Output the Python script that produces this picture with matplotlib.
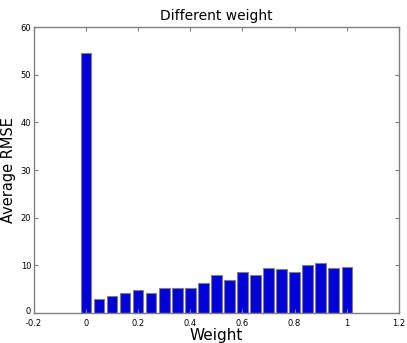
import matplotlib
matplotlib.use("Agg")
import matplotlib.pyplot as plt
from matplotlib.transforms import ScaledTranslation

weights = [0.0, 0.05, 0.1, 0.15, 0.2, 0.25, 0.3, 0.35, 0.4, 0.45, 0.5,
           0.55, 0.6, 0.65, 0.7, 0.75, 0.8, 0.85, 0.9, 0.95, 1.0]
rmse = [54.5, 3.0, 3.6, 4.2, 4.9, 4.2, 5.2, 5.2, 5.2, 6.2, 8.0,
        7.0, 8.7, 8.0, 9.5, 9.2, 8.6, 10.1, 10.4, 9.35, 9.65]
xticks = [-0.2, 0, 0.2, 0.4, 0.6, 0.8, 1, 1.2]
xticklabels = ["-0.2", "0", "0.2", "0.4", "0.6", "0.8", "1", "1.2"]
yticks = [0, 10, 20, 30, 40, 50, 60]

fig = plt.figure(figsize=(4.07, 3.43), dpi=100)
ax = fig.add_axes([0.0835, 0.0875, 0.8965, 0.8335])
ax.bar(weights, rmse, width=0.04, color="#0000d8", edgecolor="#808080", linewidth=0.8)
ax.set_xlim(-0.2, 1.2)
ax.set_ylim(0, 60)
ax.set_xticks(xticks)
ax.set_xticklabels(xticklabels)
ax.set_yticks(yticks)
ax.tick_params(direction="in", top=True, right=True, labelsize=6, length=3,
               color="#808080")
ax.tick_params(axis="x", pad=4)
ax.tick_params(axis="y", pad=2)
# lift the y "0" label slightly, like the reference
ylab0 = ax.get_yticklabels()[0]
ylab0.set_transform(ylab0.get_transform() + ScaledTranslation(0, 2 / 72, fig.dpi_scale_trans))
for s in ax.spines.values():
    s.set_color("#808080")
    s.set_linewidth(1.0)
ax.set_title("Different weight", fontsize=10, pad=5)
ax.set_xlabel("Weight", fontsize=11, labelpad=0)
ax.set_ylabel("Average RMSE", fontsize=10.5, labelpad=3)
fig.savefig("out.png", dpi=100)
